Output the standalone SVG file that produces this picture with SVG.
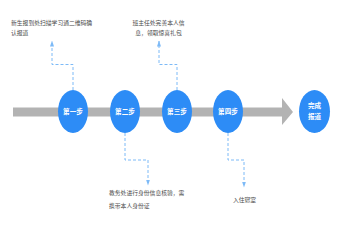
<svg xmlns="http://www.w3.org/2000/svg" width="341" height="227" viewBox="0 0 341 227">
<style>
.lbl{font-family:"Noto Sans CJK SC","Noto Sans",sans-serif;font-size:5.8px;fill:#4a4a4a}
.step{font-family:"Noto Sans CJK SC","Noto Sans",sans-serif;font-size:6.6px;fill:#fff;font-weight:bold;text-anchor:middle}
.node{fill:#2d8cf6}
.conn{fill:none;stroke:#7dbaf7;stroke-width:1;stroke-dasharray:3 2}
</style>
<defs>
<marker id="ah" viewBox="0 0 6 4" refX="5.5" refY="2" markerWidth="6" markerHeight="4" markerUnits="userSpaceOnUse" orient="auto">
<path d="M0,0 L6,2 L0,4 Z" fill="#7dbaf7"/>
</marker>
</defs>
<rect width="341" height="227" fill="#fff"/>
<g id="timeline">
<rect x="13" y="107.5" width="270" height="9" fill="#b3b3b3"/>
<path d="M282,98 L293,112 L282,125 Z" fill="#b3b3b3"/>
</g>
<g id="connectors">
<path class="conn" d="M73,90 V64.5 H52 V41" marker-end="url(#ah)"/>
<path class="conn" d="M177,90 V64.5 H159 V41" marker-end="url(#ah)"/>
<path class="conn" d="M125,133 V160 H148 V185" marker-end="url(#ah)"/>
<path class="conn" d="M228,133 V160 H244 V187" marker-end="url(#ah)"/>
</g>
<g id="step1"><ellipse class="node" cx="73" cy="111.5" rx="15" ry="21.5"/><text class="step" x="73" y="114">第一步</text></g>
<g id="step2"><ellipse class="node" cx="125" cy="111.5" rx="15" ry="21.5"/><text class="step" x="125" y="114">第二步</text></g>
<g id="step3"><ellipse class="node" cx="177" cy="111.5" rx="15" ry="21.5"/><text class="step" x="177" y="114">第三步</text></g>
<g id="step4"><ellipse class="node" cx="228" cy="111.5" rx="15" ry="21.5"/><text class="step" x="228" y="114">第四步</text></g>
<g id="done"><ellipse class="node" cx="314.5" cy="111.5" rx="15.5" ry="21.5"/><text class="step" x="314.5" y="108">完成</text><text class="step" x="314.5" y="118.5">报道</text></g>
<g id="note1"><text class="lbl" x="11" y="25">新生报到处扫描学习通二维码确</text><text class="lbl" x="11" y="35">认报道</text></g>
<g id="note3"><text class="lbl" x="158.5" y="25" text-anchor="middle">班主任处完善本人信</text><text class="lbl" x="158.5" y="35" text-anchor="middle">息，领取惊喜礼包</text></g>
<g id="note2"><text class="lbl" x="109" y="195">教务处进行身份信息核验，需</text><text class="lbl" x="109" y="208">携带本人身份证</text></g>
<g id="note4"><text class="lbl" x="244.5" y="202" text-anchor="middle">入住寝室</text></g>
</svg>
